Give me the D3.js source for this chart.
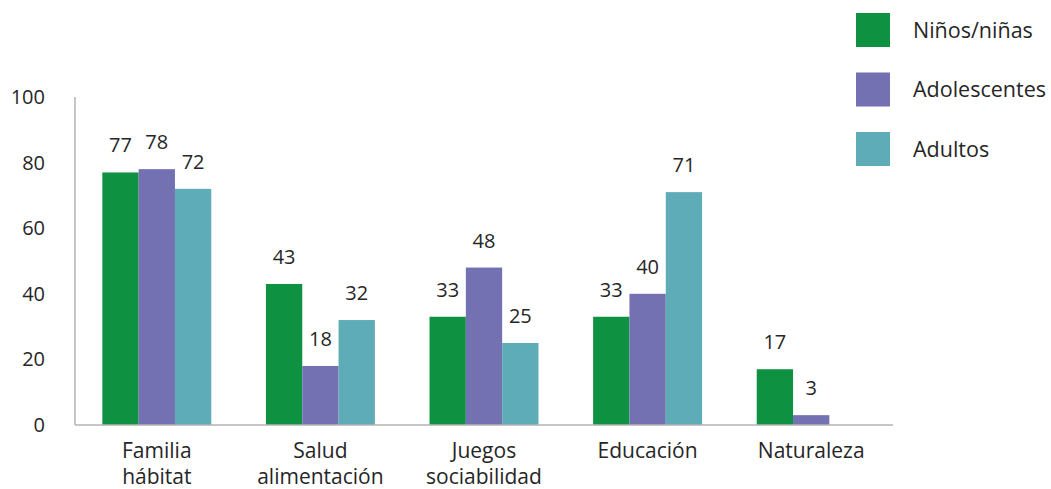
<!DOCTYPE html>
<html>
<head>
<meta charset="utf-8">
<script src="https://cdn.jsdelivr.net/npm/d3@7"></script>
<style>
  body { margin: 0; background: #fff; }
  svg text { font-family: "Open Sans", "Noto Sans", sans-serif; fill: #262626; }
</style>
</head>
<body>
<svg id="chart" width="1051" height="489"></svg>
<script>
const categorias = [["Familia", "hábitat"], ["Salud", "alimentación"], ["Juegos", "sociabilidad"], ["Educación"], ["Naturaleza"]];
const series = ["Niños/niñas", "Adolescentes", "Adultos"];
const ninos = [77, 43, 33, 33, 17];
const adolescentes = [78, 18, 48, 40, 3];
const adultos = [72, 32, 25, 71, null];
const yTicks = [0, 20, 40, 60, 80, 100];
const colores = ["#0f9142", "#7471b3", "#5eacb7"];

const valores = [ninos, adolescentes, adultos];
const svg = d3.select("#chart");

const x0 = d3.scaleBand()
    .domain(d3.range(categorias.length))
    .range([75, 893])
    .paddingInner(0.334)
    .paddingOuter(0.167);

const x1 = d3.scaleBand()
    .domain(d3.range(series.length))
    .range([0, x0.bandwidth()]);

const y = d3.scaleLinear().domain([0, 100]).range([425, 97]);

// eje y
svg.append("line")
    .attr("x1", 75).attr("x2", 75)
    .attr("y1", y(100)).attr("y2", y(0))
    .attr("stroke", "#b3b3b3").attr("stroke-width", 1.5);

svg.selectAll(".ytick")
    .data(yTicks)
    .enter().append("text")
    .attr("x", 45)
    .attr("y", d => y(d))
    .attr("dy", "0.35em")
    .attr("text-anchor", "end")
    .style("font-size", "20px")
    .text(d => d);

// barras
series.forEach((s, i) => {
    const g = svg.append("g");
    const datos = valores[i].map((v, j) => ({ v, j })).filter(d => d.v != null);

    g.selectAll("rect")
        .data(datos)
        .enter().append("rect")
        .attr("x", d => x0(d.j) + x1(i))
        .attr("y", d => y(d.v))
        .attr("width", x1.bandwidth())
        .attr("height", d => y(0) - y(d.v))
        .attr("fill", colores[i]);

    g.selectAll("text")
        .data(datos)
        .enter().append("text")
        .attr("x", d => x0(d.j) + x1(i) + x1.bandwidth() / 2)
        .attr("y", d => y(d.v) - 20)
        .attr("text-anchor", "middle")
        .style("font-size", "20px")
        .text(d => d.v);
});

// eje x
svg.append("line")
    .attr("x1", 75).attr("x2", 893)
    .attr("y1", y(0)).attr("y2", y(0))
    .attr("stroke", "#b3b3b3").attr("stroke-width", 1.5);

categorias.forEach((c, j) => {
    const t = svg.append("text")
        .attr("x", x0(j) + x0.bandwidth() / 2)
        .attr("y", 458)
        .attr("text-anchor", "middle")
        .style("font-size", "21px");
    c.forEach((linea, k) => {
        t.append("tspan")
            .attr("x", x0(j) + x0.bandwidth() / 2)
            .attr("dy", k === 0 ? 0 : 26)
            .text(linea);
    });
});

// leyenda
const leyenda = svg.append("g");
series.forEach((s, i) => {
    leyenda.append("rect")
        .attr("x", 856)
        .attr("y", 13 + i * 59.5)
        .attr("width", 34).attr("height", 34)
        .attr("fill", colores[i]);
    leyenda.append("text")
        .attr("x", 913)
        .attr("y", 30 + i * 59.5)
        .attr("dy", "0.35em")
        .style("font-size", "21.5px")
        .text(s);
});
</script>
</body>
</html>
